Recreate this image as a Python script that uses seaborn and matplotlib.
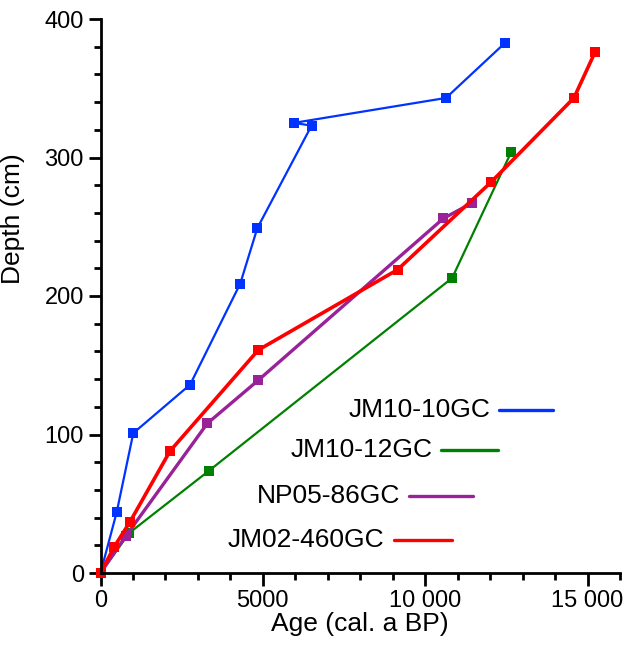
import pandas as pd
import matplotlib
matplotlib.use("Agg")
import matplotlib.pyplot as plt
from matplotlib.lines import Line2D
from matplotlib.ticker import MultipleLocator, FuncFormatter
import seaborn as sns

# ------- Dữ liệu (tuổi cal. a BP, độ sâu cm) -------
jm10_10_age = [0, 500, 1010, 2760, 4305, 4830, 6500, 5960, 10640, 12470]
jm10_10_depth = [0, 44, 101, 136, 209, 249, 323, 325, 343, 383]

jm10_12_age = [0, 890, 3350, 10830, 12650]
jm10_12_depth = [0, 29, 74, 213, 304]

np05_86_age = [0, 790, 3290, 4850, 10560, 11430]
np05_86_depth = [0, 27, 108, 139, 256, 267]

jm02_460_age = [0, 425, 910, 2140, 4860, 9150, 12020, 14580, 15230]
jm02_460_depth = [0, 19, 37, 88, 161, 219, 282, 343, 376]

cores = ['JM10-10GC', 'JM10-12GC', 'NP05-86GC', 'JM02-460GC']
colors = {'JM10-10GC': '#0033ff', 'JM10-12GC': '#008000',
          'NP05-86GC': '#992299', 'JM02-460GC': '#ff0000'}
widths = {'JM10-10GC': 1.6, 'JM10-12GC': 1.6, 'NP05-86GC': 2.4, 'JM02-460GC': 2.6}
msizes = {'JM10-10GC': 6.5, 'JM10-12GC': 6.5, 'NP05-86GC': 7, 'JM02-460GC': 7.5}

frames = []
for name, a, d in [('JM10-10GC', jm10_10_age, jm10_10_depth),
                   ('JM10-12GC', jm10_12_age, jm10_12_depth),
                   ('NP05-86GC', np05_86_age, np05_86_depth),
                   ('JM02-460GC', jm02_460_age, jm02_460_depth)]:
    frames.append(pd.DataFrame({'age': a, 'depth': d, 'core': name}))
df = pd.concat(frames, ignore_index=True)

sns.set_theme(style='ticks')
plt.rcParams['font.family'] = ['Liberation Sans', 'DejaVu Sans']

W, H = 636, 653
fig = plt.figure(figsize=(W / 100, H / 100), dpi=100)
ax = fig.add_axes([100.5 / W, 1 - 573 / H, (620 - 100.5) / W, 554 / H])

# vẽ từng lõi khoan theo thứ tự (sort=False để giữ đường đi gốc)
for name in cores:
    sub = df[df['core'] == name]
    sns.lineplot(data=sub, x='age', y='depth', ax=ax, sort=False, estimator=None,
                 color=colors[name], linewidth=widths[name], marker='s',
                 markersize=msizes[name], markeredgewidth=0, clip_on=False)

ax.set_xlim(0, 16000)
ax.set_ylim(0, 400)
sns.despine(ax=ax)
for s in ['left', 'bottom']:
    ax.spines[s].set_linewidth(2)
    ax.spines[s].set_color('black')

ax.xaxis.set_major_locator(MultipleLocator(5000))
ax.xaxis.set_minor_locator(MultipleLocator(1000))
ax.yaxis.set_major_locator(MultipleLocator(100))
ax.yaxis.set_minor_locator(MultipleLocator(20))
ax.xaxis.set_major_formatter(FuncFormatter(
    lambda v, p: f"{int(v)}" if v < 10000 else f"{int(v):,}".replace(',', ' ')))
ax.tick_params(which='major', direction='out', length=9, width=2, labelsize=17,
               color='black', labelcolor='black', pad=3)
ax.tick_params(which='minor', direction='out', length=5, width=2, color='black')

ax.set_xlabel('Age (cal. a BP)', fontsize=19, labelpad=0, color='black')
ax.set_ylabel('Depth (cm)', fontsize=19, color='black')
ax.yaxis.set_label_coords(-0.145, 0.64)

# ------- Chú giải kiểu bậc thang -------
legend_pos = [('JM10-10GC', 490, 499, 553, 410),
              ('JM10-12GC', 433, 441, 498, 450),
              ('NP05-86GC', 400, 409, 473, 496),
              ('JM02-460GC', 384, 394, 452, 540)]
for name, tx, x0, x1, y in legend_pos:
    fig.text(tx / W, 1 - y / H, name, ha='right', va='center', fontsize=19, color='black')
    fig.add_artist(Line2D([x0 / W, x1 / W], [1 - y / H, 1 - y / H],
                          transform=fig.transFigure, color=colors[name], linewidth=2.4))

fig.savefig('out.png', dpi=100)
